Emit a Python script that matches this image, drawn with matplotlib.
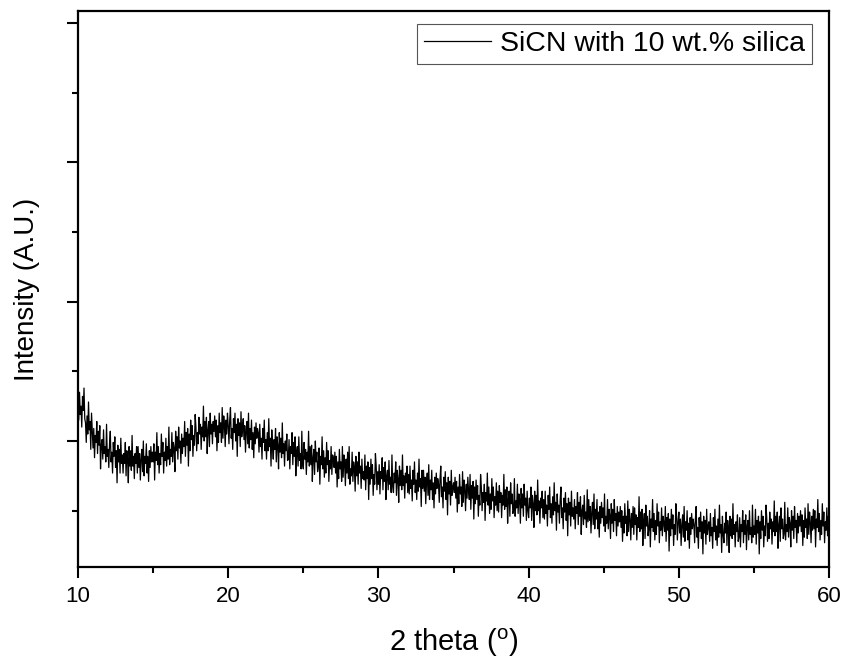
import numpy as np
import matplotlib
matplotlib.use("Agg")
import matplotlib.pyplot as plt
from matplotlib.ticker import MultipleLocator, NullFormatter

plt.rcParams['font.family'] = ['Liberation Sans', 'DejaVu Sans']
plt.rcParams['mathtext.fontset'] = 'custom'
plt.rcParams['mathtext.rm'] = 'Liberation Sans'

# XRD pattern: 2 theta 10..60 deg, step 0.05 deg
two_theta_start = 10.0
two_theta_step = 0.05
intensity = [
    1290, 1150, 1350, 1190, 1250, 1100, 1320, 1220, 1380, 1160, 1130, 990, 1180, 1050, 1280, 1080, 1140, 940, 1200, 1070,  # 10
    950, 1090, 880, 1040, 990, 1140, 910, 1070, 970, 1110, 800, 970, 1010, 870, 1080, 910, 960, 850, 1120, 890,  # 11
    940, 810, 980, 1070, 850, 920, 770, 990, 890, 1030, 810, 930, 700, 970, 850, 940, 770, 1020, 840, 900,  # 12
    770, 910, 840, 990, 750, 930, 870, 700, 960, 820, 930, 790, 1040, 820, 890, 730, 910, 840, 960, 770,  # 13
    960, 810, 910, 720, 870, 940, 780, 1000, 750, 890, 840, 980, 770, 890, 710, 930, 810, 960, 850, 920,  # 14
    850, 980, 720, 920, 860, 1060, 830, 960, 770, 910, 830, 1050, 890, 990, 770, 920, 860, 1020, 820, 960,  # 15
    870, 1100, 830, 940, 890, 1060, 850, 990, 950, 780, 1070, 930, 1030, 870, 1100, 950, 1000, 840, 1050, 910,  # 16
    1020, 960, 1140, 890, 1060, 970, 1090, 820, 1050, 930, 1150, 1010, 1110, 890, 1040, 970, 1190, 1100, 930, 1060,  # 17
    980, 1170, 1050, 1120, 940, 1100, 1030, 1250, 1000, 1140, 1030, 1170, 910, 1080, 1140, 960, 1200, 1050, 1120, 980,  # 18
    1140, 1070, 1180, 1030, 1150, 930, 1110, 990, 1200, 1060, 1130, 990, 1240, 1020, 1180, 1110, 960, 1150, 1050, 1200,  # 19
    1110, 980, 1150, 1240, 1020, 1090, 940, 1160, 1060, 1200, 1000, 1120, 890, 1160, 1040, 1130, 960, 1210, 1030, 1090,  # 20
    1160, 1010, 1110, 920, 1070, 1140, 980, 1200, 950, 1090, 1010, 1150, 940, 1060, 880, 1100, 980, 1130, 1020, 1090,  # 21
    1060, 920, 1120, 960, 1020, 870, 1090, 990, 1150, 930, 1010, 870, 1060, 930, 1160, 960, 1020, 820, 1080, 950,  # 22
    870, 1010, 940, 1090, 850, 1030, 970, 800, 1060, 920, 1020, 880, 1130, 910, 980, 820, 1000, 930, 1050, 860,  # 23
    870, 1010, 800, 960, 910, 1060, 830, 990, 890, 1030, 750, 920, 960, 820, 1030, 860, 910, 800, 1070, 840,  # 24
    800, 990, 870, 940, 760, 920, 850, 1070, 820, 960, 830, 970, 710, 880, 940, 760, 1000, 850, 920, 780,  # 25
    820, 950, 690, 890, 830, 1030, 800, 930, 740, 880, 770, 990, 830, 930, 710, 860, 800, 960, 760, 900,  # 26
    880, 810, 920, 770, 890, 670, 850, 730, 940, 800, 850, 710, 960, 740, 900, 830, 680, 870, 770, 920,  # 27
    730, 960, 690, 800, 750, 920, 710, 850, 810, 640, 890, 750, 850, 690, 920, 770, 820, 660, 870, 730,  # 28
    780, 720, 900, 650, 820, 730, 850, 580, 810, 690, 870, 730, 830, 610, 760, 690, 910, 820, 650, 780,  # 29
    690, 830, 620, 780, 730, 880, 650, 810, 710, 850, 580, 750, 790, 650, 860, 690, 740, 630, 900, 670,  # 30
    630, 770, 700, 850, 610, 790, 730, 560, 820, 680, 790, 650, 900, 680, 750, 590, 770, 700, 820, 630,  # 31
    760, 620, 820, 660, 720, 570, 790, 690, 850, 630, 720, 580, 770, 640, 870, 670, 730, 530, 790, 660,  # 32
    790, 640, 740, 550, 700, 770, 610, 830, 580, 720, 650, 790, 580, 700, 520, 740, 620, 770, 660, 730,  # 33
    690, 560, 730, 820, 600, 670, 520, 740, 640, 780, 580, 700, 470, 740, 620, 710, 540, 790, 610, 670,  # 34
    700, 630, 740, 590, 710, 490, 670, 550, 760, 620, 670, 530, 780, 560, 720, 650, 500, 690, 590, 740,  # 35
    640, 580, 760, 510, 680, 590, 710, 440, 670, 550, 720, 580, 680, 460, 610, 540, 760, 670, 500, 630,  # 36
    560, 690, 430, 630, 570, 770, 540, 670, 480, 620, 510, 730, 570, 670, 450, 600, 540, 700, 500, 640,  # 37
    490, 680, 560, 630, 450, 610, 540, 760, 510, 650, 530, 670, 410, 580, 640, 460, 700, 550, 620, 480,  # 38
    500, 730, 460, 570, 520, 690, 480, 620, 580, 410, 660, 520, 620, 460, 690, 540, 590, 430, 640, 500,  # 39
    450, 590, 520, 670, 430, 610, 550, 380, 640, 500, 610, 470, 720, 500, 570, 410, 590, 520, 640, 450,  # 40
    580, 440, 640, 480, 540, 390, 610, 510, 670, 450, 550, 410, 600, 470, 700, 500, 560, 360, 620, 490,  # 41
    540, 410, 580, 670, 450, 520, 370, 590, 490, 630, 430, 550, 320, 590, 470, 560, 390, 640, 460, 520,  # 42
    440, 580, 370, 530, 480, 630, 400, 560, 460, 600, 330, 500, 540, 400, 610, 440, 490, 380, 650, 420,  # 43
    580, 430, 530, 340, 490, 560, 400, 620, 370, 510, 440, 580, 370, 490, 310, 530, 410, 560, 450, 520,  # 44
    390, 620, 350, 460, 410, 580, 370, 510, 470, 300, 550, 410, 510, 350, 580, 430, 480, 320, 530, 390,  # 45
    490, 420, 530, 380, 500, 280, 460, 340, 550, 410, 460, 320, 570, 350, 510, 440, 290, 480, 380, 530,  # 46
    330, 520, 400, 470, 290, 450, 380, 600, 350, 490, 370, 510, 250, 420, 480, 300, 540, 390, 460, 320,  # 47
    370, 500, 240, 440, 380, 580, 350, 480, 290, 430, 330, 550, 390, 490, 270, 420, 360, 520, 320, 460,  # 48
    410, 350, 530, 280, 450, 360, 480, 210, 440, 320, 510, 370, 470, 250, 400, 330, 550, 460, 290, 420,  # 49
    490, 340, 440, 250, 400, 470, 310, 530, 280, 420, 360, 500, 290, 410, 230, 450, 330, 480, 370, 440,  # 50
    400, 270, 440, 530, 310, 380, 230, 450, 350, 490, 300, 420, 190, 460, 340, 430, 260, 510, 330, 390,  # 51
    420, 280, 480, 320, 380, 230, 450, 350, 510, 290, 390, 250, 440, 310, 540, 340, 400, 200, 460, 330,  # 52
    270, 410, 340, 490, 250, 430, 370, 200, 460, 320, 440, 300, 550, 330, 400, 240, 420, 350, 470, 280,  # 53
    310, 450, 240, 400, 350, 500, 270, 430, 330, 470, 220, 390, 430, 290, 500, 330, 380, 270, 540, 310,  # 54
    390, 330, 510, 260, 430, 340, 460, 190, 420, 300, 500, 360, 460, 240, 390, 320, 540, 450, 280, 410,  # 55
    300, 490, 370, 440, 260, 420, 350, 570, 320, 460, 350, 490, 230, 400, 460, 280, 520, 370, 440, 300,  # 56
    330, 560, 290, 400, 350, 520, 310, 450, 410, 240, 500, 360, 460, 300, 530, 380, 430, 270, 480, 340,  # 57
    460, 390, 500, 350, 470, 250, 430, 310, 520, 380, 440, 300, 550, 330, 490, 420, 270, 460, 360, 510,  # 58
    370, 500, 240, 440, 380, 580, 350, 480, 290, 430, 330, 550, 390, 490, 270, 420, 360, 520, 320, 460,  # 59
    400,  # 60
]
two_theta = two_theta_start + two_theta_step * np.arange(len(intensity))
series_label = "SiCN with 10 wt.% silica"

fig = plt.figure(figsize=(8.46, 6.65), dpi=100)
ax = fig.add_axes([0.0922, 0.1474, 0.8878, 0.8361])

ax.plot(two_theta, intensity, color='black', lw=0.9, label=series_label)

ax.set_xlim(10, 60)
ax.set_ylim(96, 4086)
ax.xaxis.set_major_locator(MultipleLocator(10))
ax.xaxis.set_minor_locator(MultipleLocator(5))
ax.yaxis.set_major_locator(MultipleLocator(1000))
ax.yaxis.set_minor_locator(MultipleLocator(500))
ax.yaxis.set_major_formatter(NullFormatter())

ax.tick_params(which='major', direction='out', length=8, width=1.5,
               labelsize=16, pad=6)
ax.tick_params(which='minor', direction='out', length=4, width=1.5)
for s in ax.spines.values():
    s.set_linewidth(1.6)

ax.set_xlabel('2 theta ($^{\\mathregular{o}}$)', fontsize=21)
ax.set_ylabel('Intensity (A.U.)', fontsize=20)
ax.xaxis.set_label_coords(0.5, -0.107)
ax.yaxis.set_label_coords(-0.0506, 0.5)

leg = ax.legend(loc='upper right', bbox_to_anchor=(0.9774, 0.9766),
                fontsize=20.5, frameon=True, fancybox=False, framealpha=1,
                edgecolor='#555555', handlelength=2.35, handletextpad=0.32,
                borderaxespad=0, borderpad=0.25)
leg.get_frame().set_linewidth(0.8)

fig.savefig('out.png', dpi=100)
